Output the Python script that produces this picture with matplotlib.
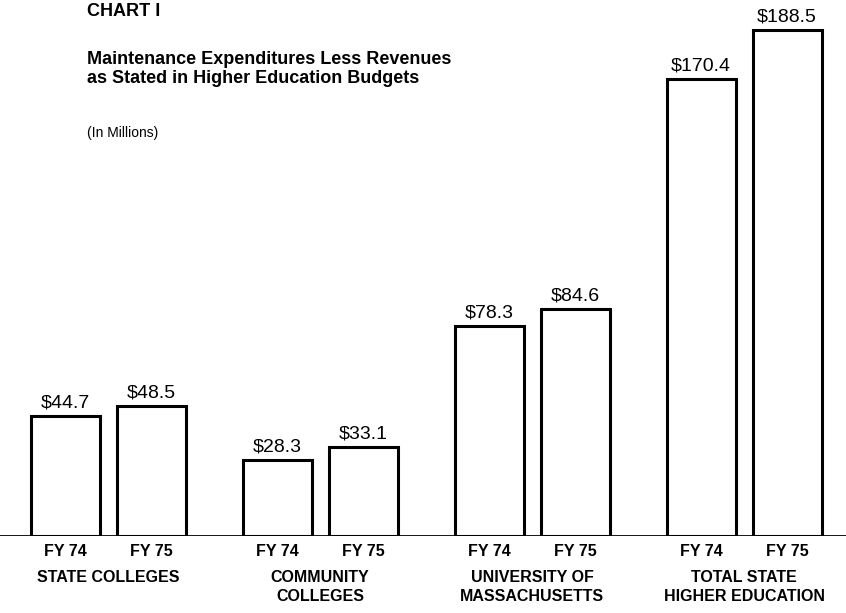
import matplotlib.pyplot as plt
import matplotlib.transforms as mtransforms

# values (in millions)
groups = ['STATE COLLEGES', 'COMMUNITY\nCOLLEGES', 'UNIVERSITY OF\nMASSACHUSETTS', 'TOTAL STATE\nHIGHER EDUCATION']
years = ['FY 74', 'FY 75']
fy74 = [44.7, 28.3, 78.3, 170.4]
fy75 = [48.5, 33.1, 84.6, 188.5]

W, H = 846, 613
fig = plt.figure(figsize=(W / 100, H / 100), dpi=100)
base = 536  # baseline, pixels from top
ax = fig.add_axes([0, (H - base) / H, 1, base / H])
ax.set_xlim(0, W)
ax.set_ylim(0, 188.5 * base / 506)
ax.axis('off')

font = 'Liberation Sans'

spacing, first, off, bw = 212, 108, 43, 69
below = mtransforms.blended_transform_factory(ax.transData, fig.transFigure)

for i, g in enumerate(groups):
    c = first + i * spacing
    for j, v in enumerate([fy74[i], fy75[i]]):
        x = c + (j * 2 - 1) * off
        ax.bar(x, v, width=bw, color='white', edgecolor='black', linewidth=2.2)
        ax.annotate('$%.1f' % v, (x, v), xytext=(0, 3), textcoords='offset points',
                    ha='center', va='bottom', fontsize=14, family=font)
        ax.text(x, (H - 551) / H, years[j], transform=below, ha='center', va='center',
                fontsize=11.5, fontweight='bold', family=font)
    ax.text(c, (H - 570) / H, g, transform=below, ha='center', va='top',
            fontsize=11.5, fontweight='bold', family=font, linespacing=1.3)

ax.axhline(0, color='black', linewidth=2)

fig.text(87 / W, 1 - 11 / H, 'CHART I', fontsize=13, fontweight='bold', family=font, va='center')
fig.text(87 / W, 1 - 69 / H, 'Maintenance Expenditures Less Revenues\nas Stated in Higher Education Budgets',
         fontsize=13, fontweight='bold', family=font, va='center', linespacing=1.2)
fig.text(87 / W, 1 - 133 / H, '(In Millions)', fontsize=10, family=font, va='center')

fig.savefig('out.png', dpi=100)
